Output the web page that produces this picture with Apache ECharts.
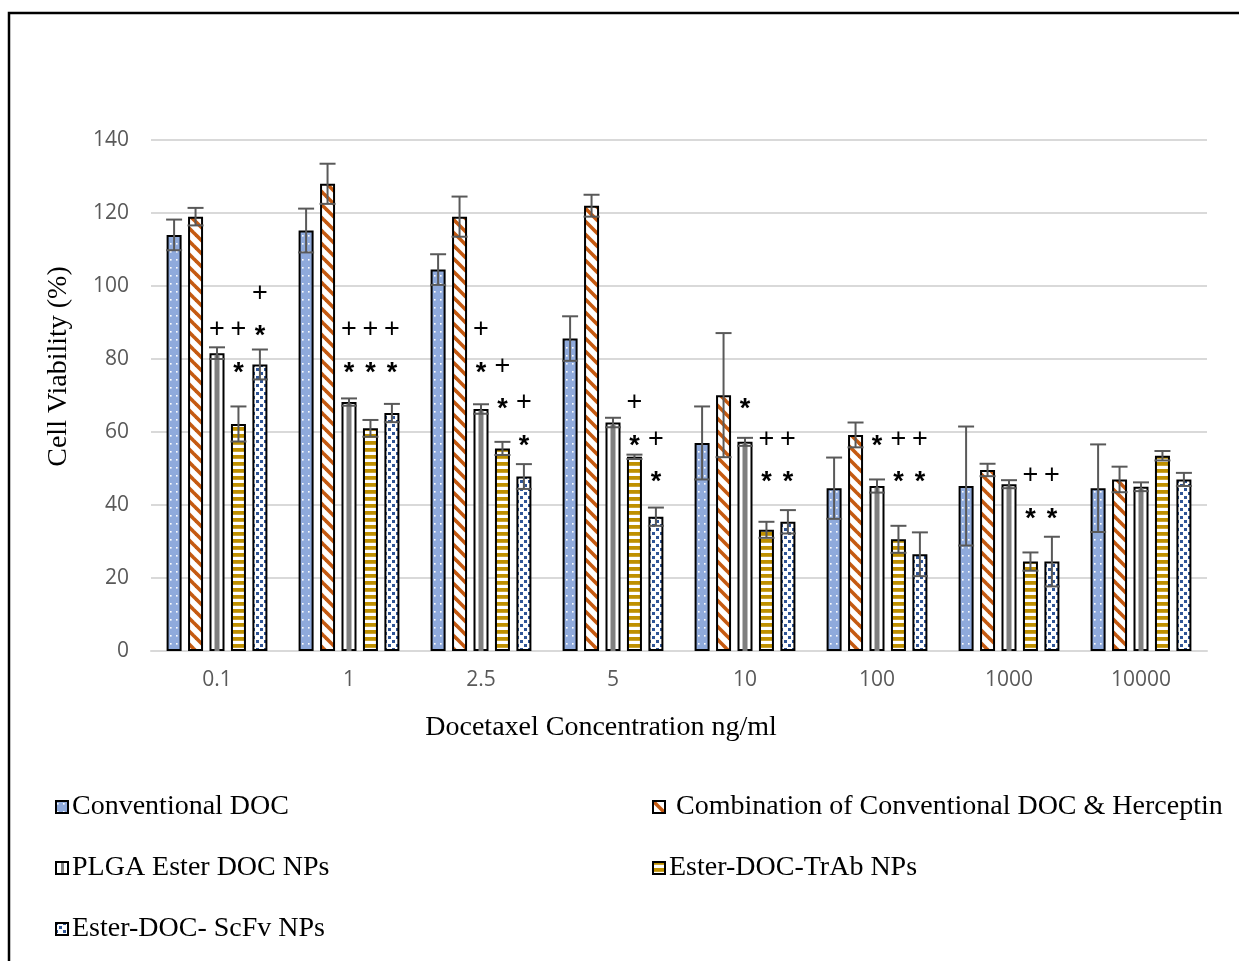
<!DOCTYPE html>
<html>
<head>
<meta charset="utf-8">
<script src="https://cdn.jsdelivr.net/npm/echarts@6/dist/echarts.min.js"></script>
<style>
  html, body { margin: 0; padding: 0; background: #fff; }
  #chart { width: 1239px; height: 961px; }
</style>
</head>
<body>
<div id="chart"></div>
<script>
// ---------------- DATA ----------------
const categories = ['0.1', '1', '2.5', '5', '10', '100', '1000', '10000'];
const seriesNames = [
  'Conventional DOC',
  'Combination of Conventional DOC & Herceptin',
  'PLGA Ester DOC NPs',
  'Ester-DOC-TrAb NPs',
  'Ester-DOC- ScFv NPs'
];
const conventional    = [114, 115.2, 104.5, 85.6, 57, 44.6, 45.2, 44.6];
const conventionalErr = [4.2, 6, 4.2, 6.1, 10, 8.4, 16.3, 12];
const combination     = [119, 128, 119, 122, 70.1, 59.2, 49.6, 47];
const combinationErr  = [2.4, 5.5, 5.5, 3, 17, 3.4, 1.7, 3.5];
const plga            = [81.6, 68.2, 66.3, 62.6, 57.3, 45.2, 45.7, 45];
const plgaErr         = [1.6, 1, 1.3, 1.3, 1.1, 1.8, 1.1, 1.2];
const trab            = [62.2, 61, 55.5, 53.2, 33.2, 30.6, 24.5, 53.5];
const trabErr         = [4.8, 2.3, 1.8, 0.6, 2.2, 3.7, 2.5, 1.3];
const scfv            = [78.5, 65.2, 47.8, 36.8, 35.4, 26.5, 24.5, 47];
const scfvErr         = [4.1, 2.5, 3.4, 2.5, 3.2, 6, 6.8, 1.8];
const yTicks = { min: 0, max: 140, interval: 20 };
// significance marks: [category, series index, level on value axis, symbol]
const annotations = [
  ['0.1', 2, 88, '+'], ['0.1', 3, 88, '+'], ['0.1', 3, 78, '*'], ['0.1', 4, 88, '*'], ['0.1', 4, 98, '+'],
  ['1', 2, 88, '+'], ['1', 2, 78, '*'], ['1', 3, 88, '+'], ['1', 3, 78, '*'], ['1', 4, 88, '+'], ['1', 4, 78, '*'],
  ['2.5', 2, 88, '+'], ['2.5', 2, 78, '*'], ['2.5', 3, 78, '+'], ['2.5', 3, 68, '*'], ['2.5', 4, 68, '+'], ['2.5', 4, 58, '*'],
  ['5', 3, 68, '+'], ['5', 3, 58, '*'], ['5', 4, 58, '+'], ['5', 4, 48, '*'],
  ['10', 2, 68, '*'], ['10', 3, 58, '+'], ['10', 3, 48, '*'], ['10', 4, 58, '+'], ['10', 4, 48, '*'],
  ['100', 2, 58, '*'], ['100', 3, 58, '+'], ['100', 3, 48, '*'], ['100', 4, 58, '+'], ['100', 4, 48, '*'],
  ['1000', 3, 48, '+'], ['1000', 3, 38, '*'], ['1000', 4, 48, '+'], ['1000', 4, 38, '*']
];

// ---------------- STYLE ----------------
const BAR_W = 15;
const BAR_GAP = 0.43;
const STEP = BAR_W * (1 + BAR_GAP);
const ERR_COLOR = '#595959';
const colors = ['#8FAADC', '#C55A11', '#7F7F7F', '#BF9000', '#2F5597'];

function tile(w, h, draw) {
  const c = document.createElement('canvas');
  c.width = w; c.height = h;
  const ctx = c.getContext('2d');
  draw(ctx, w, h);
  return c;
}
const patterns = [
  tile(6, 8, (ctx, w, h) => {
    ctx.fillStyle = colors[0]; ctx.fillRect(0, 0, w, h);
    ctx.fillStyle = '#ffffff'; ctx.fillRect(2, 3, 1.6, 1.6);
  }),
  tile(13, 13, (ctx, w, h) => {
    ctx.fillStyle = '#ffffff'; ctx.fillRect(0, 0, w, h);
    ctx.strokeStyle = colors[1]; ctx.lineWidth = 3.6;
    for (let k = -w; k <= w; k += w) {
      ctx.beginPath(); ctx.moveTo(k - 2, -2); ctx.lineTo(k + w + 2, h + 2); ctx.stroke();
    }
  }),
  tile(4, 4, (ctx, w, h) => {
    ctx.fillStyle = '#ffffff'; ctx.fillRect(0, 0, w, h);
  }),
  tile(4, 7, (ctx, w, h) => {
    ctx.fillStyle = '#ffffff'; ctx.fillRect(0, 0, w, h);
    ctx.fillStyle = colors[3]; ctx.fillRect(0, 0, w, 3.8);
  }),
  tile(8, 8, (ctx, w, h) => {
    ctx.fillStyle = '#ffffff'; ctx.fillRect(0, 0, w, h);
    ctx.fillStyle = colors[4]; ctx.fillRect(0, 0, 3, 3); ctx.fillRect(4, 4, 3, 3);
  })
];
function legendIcon(i) {
  const c = tile(14, 14, (ctx, w, h) => {
    ctx.fillStyle = ctx.createPattern(patterns[i], 'repeat');
    ctx.fillRect(0, 0, w, h);
    if (i === 2) { ctx.fillStyle = colors[2]; ctx.fillRect(6, 1, 3, 12); }
    ctx.strokeStyle = '#000'; ctx.lineWidth = 2; ctx.strokeRect(1, 1, w - 2, h - 2);
  });
  return 'image://' + c.toDataURL();
}

const values = [conventional, combination, plga, trab, scfv];
const errors = [conventionalErr, combinationErr, plgaErr, trabErr, scfvErr];

const barSeries = values.map((vals, s) => ({
  name: seriesNames[s],
  type: 'bar',
  data: vals,
  barWidth: BAR_W,
  barGap: (BAR_GAP * 100) + '%',
  itemStyle: {
    color: { image: patterns[s], repeat: 'repeat' },
    borderColor: '#000',
    borderWidth: 2
  },
  emphasis: { disabled: true },
  z: 2
}));

const errData = [];
values.forEach((vals, s) => vals.forEach((v, i) => errData.push([i, s, v, errors[s][i]])));

const annData = annotations.map(a => [categories.indexOf(a[0]), a[1], a[2], a[3]]);

const errSeries = {
  type: 'custom',
  name: 'errors',
  data: errData,
  encode: { x: 0, y: 2 },
  z: 5,
  silent: true,
  renderItem: function (params, api) {
    const cat = api.value(0), s = api.value(1), v = api.value(2), e = api.value(3);
    const off = (s - 2) * STEP;
    const p = api.coord([cat, v]);
    const base = api.coord([cat, 0]);
    const hi = api.coord([cat, v + e]);
    const lo = api.coord([cat, v - e]);
    const x = p[0] + off;
    const capHalf = BAR_W / 2 + 0.5;
    const children = [];
    if (s === 2) {
      children.push({ type: 'rect', shape: { x: x - 2.5, y: p[1] + 1.5, width: 5, height: base[1] - p[1] - 1.5 },
        style: { fill: colors[2] } });
    }
    const st = { stroke: ERR_COLOR, lineWidth: 2 };
    children.push({ type: 'line', shape: { x1: x, y1: hi[1], x2: x, y2: lo[1] }, style: st });
    children.push({ type: 'line', shape: { x1: x - capHalf, y1: hi[1], x2: x + capHalf, y2: hi[1] }, style: st });
    children.push({ type: 'line', shape: { x1: x - capHalf, y1: lo[1], x2: x + capHalf, y2: lo[1] }, style: st });
    return { type: 'group', children: children };
  }
};

const annSeries = {
  type: 'custom',
  name: 'marks',
  data: annData,
  encode: { x: 0, y: 2 },
  z: 6,
  silent: true,
  renderItem: function (params, api) {
    const cat = api.value(0), s = api.value(1), lvl = api.value(2);
    const sym = annData[params.dataIndex][3];
    const p = api.coord([cat, lvl]);
    const x = p[0] + (s - 2) * STEP;
    const star = sym === '*';
    return {
      type: 'text',
      style: {
        text: sym, x: x, y: p[1] + (star ? 7 : 0),
        align: 'center', verticalAlign: 'middle',
        fill: '#000',
        font: star ? 'bold 27px "Liberation Sans", Arial, sans-serif' : '27px "Liberation Sans", Arial, sans-serif'
      }
    };
  }
};

const serif = '"Liberation Serif", "Times New Roman", serif';
const legendBase = {
  orient: 'vertical',
  itemWidth: 14,
  itemHeight: 14,
  itemGap: 31,
  selectedMode: false,
  textStyle: { fontFamily: serif, fontSize: 28, color: '#000', lineHeight: 30, padding: [0, 0, 0, -2] }
};

const chart = echarts.init(document.getElementById('chart'), null, { renderer: 'canvas' });
chart.setOption({
  backgroundColor: '#ffffff',
  animation: false,
  grid: { left: 151, right: 32, top: 140, bottom: 310, containLabel: false },
  graphic: [{
    type: 'rect', silent: true, z: 100,
    shape: { x: 9, y: 13, width: 1240, height: 960 },
    style: { fill: 'none', stroke: '#000', lineWidth: 2.5 }
  }],
  legend: [
    Object.assign({}, legendBase, {
      left: 50, top: 787,
      data: [0, 2, 4].map(i => ({ name: seriesNames[i], icon: legendIcon(i) }))
    }),
    Object.assign({}, legendBase, {
      left: 647, top: 787,
      formatter: n => (n === seriesNames[1] ? ' ' + n : n),
      data: [1, 3].map(i => ({ name: seriesNames[i], icon: legendIcon(i) }))
    })
  ],
  xAxis: {
    type: 'category',
    data: categories,
    axisLine: { show: true, lineStyle: { color: '#D9D9D9', width: 2 } },
    axisTick: { show: false },
    axisLabel: { color: '#595959', fontSize: 21, fontFamily: '"Open Sans", Lato, sans-serif', margin: 19 },
    name: 'Docetaxel Concentration ng/ml',
    nameLocation: 'middle',
    nameGap: 63,
    nameTextStyle: { fontFamily: serif, fontSize: 28, color: '#000', padding: [0, 156, 0, 0] }
  },
  yAxis: {
    type: 'value',
    min: yTicks.min, max: yTicks.max, interval: yTicks.interval,
    axisLine: { show: false },
    axisTick: { show: false },
    splitLine: { lineStyle: { color: '#D9D9D9', width: 2 } },
    axisLabel: { color: '#595959', fontSize: 21, fontFamily: '"Open Sans", Lato, sans-serif', margin: 22 },
    name: 'Cell Viability (%)',
    nameLocation: 'middle',
    nameGap: 78,
    nameTextStyle: { fontFamily: serif, fontSize: 28, color: '#000', padding: [0, 0, 0, 58] }
  },
  series: barSeries.concat([errSeries, annSeries])
});
</script>
</body>
</html>
